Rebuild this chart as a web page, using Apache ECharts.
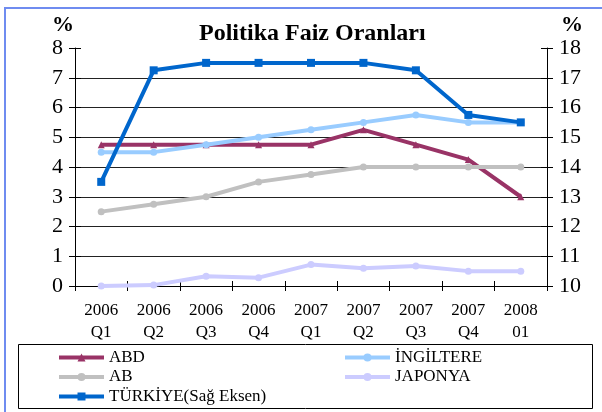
<!DOCTYPE html>
<html>
<head>
<meta charset="utf-8">
<script src="https://cdn.jsdelivr.net/npm/echarts@6/dist/echarts.min.js"></script>
<style>
  html, body { margin: 0; padding: 0; background: #fff; }
  #chart { width: 602px; height: 412px; }
</style>
</head>
<body>
<div id="chart"></div>
<script>
// kategoriler (ceyrekler)
var categories = ['2006\nQ1', '2006\nQ2', '2006\nQ3', '2006\nQ4', '2007\nQ1', '2007\nQ2', '2007\nQ3', '2007\nQ4', '2008\n01'];

// sol eksen serileri (%)
var abd = [4.75, 4.75, 4.75, 4.75, 4.75, 5.25, 4.75, 4.25, 3.0];
var ingiltere = [4.5, 4.5, 4.75, 5.0, 5.25, 5.5, 5.75, 5.5, 5.5];
var ab = [2.5, 2.75, 3.0, 3.5, 3.75, 4.0, 4.0, 4.0, 4.0];
var japonya = [0, 0.03, 0.33, 0.28, 0.72, 0.6, 0.67, 0.5, 0.5];

// sag eksen (%)
var turkiye = [13.5, 17.25, 17.5, 17.5, 17.5, 17.5, 17.25, 15.75, 15.5];

var font = '"Liberation Serif", "DejaVu Serif", serif';

var myChart = echarts.init(document.getElementById('chart'));

function lineSeries(name, data, color, symbol, size, yIndex) {
    return {
        name: name,
        type: 'line',
        yAxisIndex: yIndex || 0,
        data: data,
        symbol: symbol,
        symbolSize: size,
        showAllSymbol: true,
        lineStyle: { color: color, width: 4 },
        itemStyle: { color: color },
        animation: false
    };
}

var legendText = { fontFamily: font, fontSize: 17, color: '#000', lineHeight: 19 };

function legendCol(left, names) {
    return {
        orient: 'vertical',
        left: left,
        top: 348,
        padding: 0,
        height: 64,
        itemWidth: 45,
        itemHeight: 10,
        itemGap: 0.5,
        lineStyle: { width: 4 },
        data: names,
        textStyle: legendText
    };
}

// ic tarafa dogru tik (Excel tarzi eksenleri kesen tikler icin)
function innerY(min, max, pos) {
    return {
        type: 'value', min: min, max: max, interval: 1, position: pos,
        axisLine: { show: false },
        axisTick: { show: true, inside: true, length: 6, lineStyle: { color: '#000' } },
        axisLabel: { show: false },
        splitLine: { show: false }
    };
}

var option = {
    animation: false,
    title: {
        text: 'Politika Faiz Oranları',
        left: 194,
        top: 17,
        textStyle: { fontFamily: font, fontSize: 24, fontWeight: 'bold', color: '#000' }
    },
    grid: { left: 75, right: 55, top: 48, bottom: 126 },
    legend: [
        legendCol(57, ['ABD', 'AB', 'TÜRKİYE(Sağ Eksen)']),
        legendCol(343, ['İNGİLTERE', 'JAPONYA'])
    ],
    graphic: [
        {
            type: 'rect',
            shape: { x: 5, y: 8, width: 640, height: 440 },
            style: { fill: 'none', stroke: '#6f8cf0', lineWidth: 2 },
            silent: true
        },
        {
            type: 'rect',
            shape: { x: 18.5, y: 344.5, width: 574, height: 64 },
            style: { fill: 'none', stroke: '#000', lineWidth: 1 },
            silent: true
        },
        {
            type: 'text',
            left: 52,
            top: 14,
            style: { text: '%', font: 'bold 22px ' + font, fill: '#000' }
        },
        {
            type: 'text',
            left: 561,
            top: 14,
            style: { text: '%', font: 'bold 22px ' + font, fill: '#000' }
        }
    ],
    xAxis: [
        {
            type: 'category',
            data: categories,
            boundaryGap: true,
            axisLine: { lineStyle: { color: '#000', width: 1 } },
            axisTick: { show: true, inside: false, length: 5, lineStyle: { color: '#000' } },
            axisLabel: {
                fontFamily: font,
                fontSize: 17,
                color: '#000',
                lineHeight: 22,
                margin: 14
            },
            splitLine: { show: false }
        },
        {
            type: 'category',
            data: categories,
            position: 'bottom',
            boundaryGap: true,
            axisLine: { show: false },
            axisTick: { show: true, inside: true, length: 5, lineStyle: { color: '#000' } },
            axisLabel: { show: false },
            splitLine: { show: false }
        }
    ],
    yAxis: [
        {
            type: 'value',
            min: 0,
            max: 8,
            interval: 1,
            axisLine: { show: true, lineStyle: { color: '#000' } },
            axisTick: { show: true, length: 6, lineStyle: { color: '#000' } },
            axisLabel: { fontFamily: font, fontSize: 22, color: '#000', margin: 12 },
            splitLine: { show: true, showMaxLine: false, lineStyle: { color: '#222', width: 1 } }
        },
        {
            type: 'value',
            min: 10,
            max: 18,
            interval: 1,
            position: 'right',
            axisLine: { show: true, lineStyle: { color: '#000' } },
            axisTick: { show: true, length: 6, lineStyle: { color: '#000' } },
            axisLabel: { fontFamily: font, fontSize: 22, color: '#000', margin: 12 },
            splitLine: { show: false }
        },
        innerY(0, 8, 'left'),
        innerY(10, 18, 'right')
    ],
    series: [
        lineSeries('ABD', abd, '#993366', 'triangle', 7),
        lineSeries('İNGİLTERE', ingiltere, '#99ccff', 'circle', 7),
        lineSeries('AB', ab, '#c0c0c0', 'circle', 7),
        lineSeries('JAPONYA', japonya, '#ccccff', 'circle', 7),
        lineSeries('TÜRKİYE(Sağ Eksen)', turkiye, '#0066cc', 'rect', 8, 1)
    ]
};
myChart.setOption(option);
</script>
</body>
</html>
